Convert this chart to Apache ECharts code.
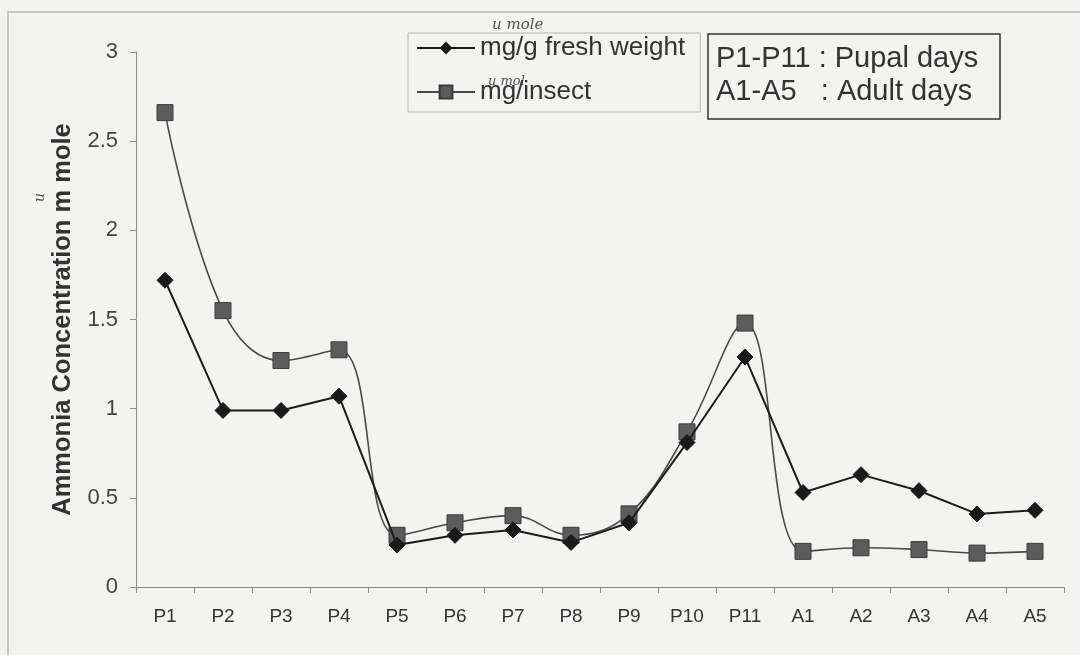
<!DOCTYPE html>
<html>
<head>
<meta charset="utf-8">
<script src="https://cdn.jsdelivr.net/npm/echarts@6/dist/echarts.min.js"></script>
<style>
html,body{margin:0;padding:0;background:#f3f3f1;}
#chart{width:1080px;height:655px;}
</style>
</head>
<body>
<div id="chart"></div>
<script>
const categories = ['P1','P2','P3','P4','P5','P6','P7','P8','P9','P10','P11','A1','A2','A3','A4','A5'];
const freshWeight = [1.72,0.99,0.99,1.07,0.235,0.29,0.32,0.25,0.36,0.81,1.29,0.53,0.63,0.54,0.41,0.43];
const perInsect = [2.66,1.55,1.27,1.33,0.29,0.36,0.40,0.29,0.41,0.87,1.48,0.20,0.22,0.21,0.19,0.20];
const yTicks = [0,0.5,1,1.5,2,2.5,3];

const chart = echarts.init(document.getElementById('chart'));
const font = 'Liberation Sans, Arial, sans-serif';
chart.setOption({
  backgroundColor: '#f3f3f1',
  animation: false,
  grid: {left: 136, right: 16, top: 52, bottom: 68},
  legend: {
    orient: 'vertical',
    left: 408, top: 33,
    padding: [2, 15, 7, 8],
    borderColor: '#b5b5b5', borderWidth: 1,
    itemWidth: 58, itemHeight: 16, itemGap: 18,
    textStyle: {fontFamily: font, fontSize: 26, color: '#333'},
    data: ['mg/g fresh weight', 'mg/insect']
  },
  xAxis: {
    type: 'category',
    data: categories,
    boundaryGap: true,
    axisLine: {lineStyle: {color: '#8a8a8a', width: 1}},
    axisTick: {show: true, length: 6, lineStyle: {color: '#8a8a8a'}},
    axisLabel: {fontFamily: font, fontSize: 19, color: '#333', margin: 20}
  },
  yAxis: {
    type: 'value',
    min: 0, max: 3, interval: 0.5,
    name: 'Ammonia Concentration m mole',
    nameLocation: 'middle',
    nameGap: 60,
    nameTextStyle: {fontFamily: font, fontSize: 25.5, fontWeight: 'bold', color: '#333'},
    axisLine: {show: true, lineStyle: {color: '#8a8a8a', width: 1}},
    axisTick: {show: true, length: 6, lineStyle: {color: '#8a8a8a'}},
    splitLine: {show: false},
    axisLabel: {fontFamily: font, fontSize: 22, color: '#444', margin: 18,
      formatter: v => yTicks.indexOf(v) >= 0 ? String(v) : ''}
  },
  series: [
    {
      name: 'mg/g fresh weight',
      type: 'line',
      data: freshWeight,
      smooth: false,
      symbol: 'diamond',
      symbolSize: 16,
      lineStyle: {color: '#1c1c1c', width: 2},
      itemStyle: {color: '#1a1a1a', borderColor: '#1a1a1a'},
      z: 3
    },
    {
      name: 'mg/insect',
      type: 'line',
      data: perInsect,
      smooth: 0.4,
      symbol: 'rect',
      symbolSize: 16,
      lineStyle: {color: '#4a4a4a', width: 1.6},
      itemStyle: {color: '#5c5c5c', borderColor: '#3a3a3a', borderWidth: 1},
      z: 2
    }
  ],
  graphic: [
    {type: 'rect', shape: {x: 8, y: 12, width: 1200, height: 800}, style: {fill: 'none', stroke: '#b8b8b8', lineWidth: 1.5}, silent: true, z: -1},
    {type: 'rect', shape: {x: 708, y: 34, width: 292, height: 85}, style: {fill: 'none', stroke: '#333', lineWidth: 1.5}},
    {type: 'text', left: 716, top: 44, style: {text: 'P1-P11 : Pupal days', fontFamily: font, fontSize: 29, fill: '#333'}},
    {type: 'text', left: 716, top: 77, style: {text: 'A1-A5   : Adult days', fontFamily: font, fontSize: 29, fill: '#333'}},
    {type: 'text', left: 492, top: 18, style: {text: 'u mole', fontFamily: 'DejaVu Serif', fontStyle: 'italic', fontSize: 15, fill: '#555'}},
    {type: 'text', left: 488, top: 75, style: {text: 'u mol', fontFamily: 'DejaVu Serif', fontStyle: 'italic', fontSize: 13, fill: '#555'}},
    {type: 'text', left: 33, top: 193, rotation: Math.PI/2, style: {text: 'u', fontFamily: 'DejaVu Serif', fontStyle: 'italic', fontSize: 14, fill: '#555'}}
  ]
});
</script>
</body>
</html>
